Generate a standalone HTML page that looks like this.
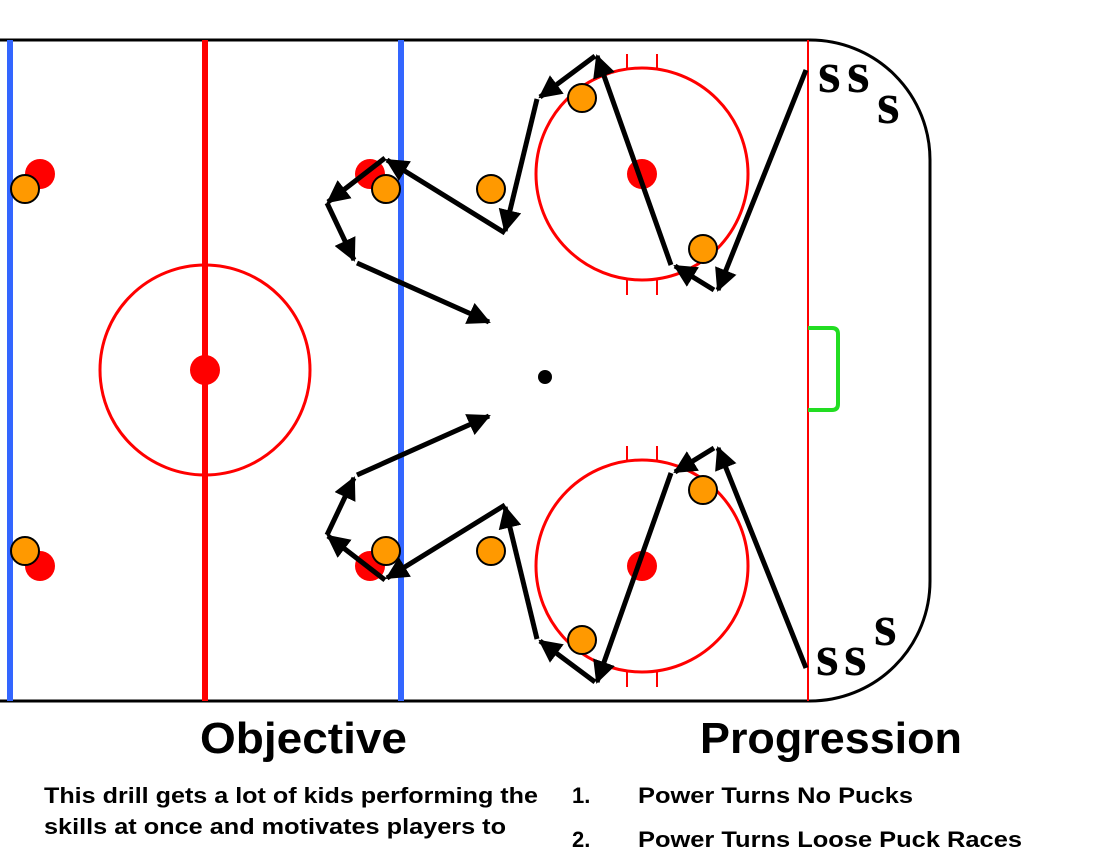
<!DOCTYPE html>
<html><head><meta charset="utf-8"><style>
body{margin:0;width:1100px;height:849px;overflow:hidden;background:#fff;font-family:"Liberation Sans",Arial,sans-serif;}
svg{position:absolute;left:0;top:0}
</style></head><body>
<svg width="1100" height="849" viewBox="0 0 1100 849">
<defs>
<marker id="ah" markerWidth="4.6" markerHeight="4.6" refX="4.2" refY="2.3" orient="auto" markerUnits="strokeWidth"><path d="M0,0 L4.6,2.3 L0,4.6 Z" fill="#000"/></marker>
</defs>
<path d="M0,40 H810 A120,120 0 0 1 930,160 V581 A120,120 0 0 1 810,701 H0" fill="none" stroke="#000" stroke-width="3"/>
<line x1="10" y1="40" x2="10" y2="701" stroke="#3366ff" stroke-width="6"/>
<line x1="401" y1="40" x2="401" y2="701" stroke="#3366ff" stroke-width="6"/>
<line x1="205" y1="40" x2="205" y2="701" stroke="#f00" stroke-width="6"/>
<line x1="808" y1="40" x2="808" y2="701" stroke="#f00" stroke-width="2"/>
<circle cx="205" cy="370" r="105" fill="none" stroke="#f00" stroke-width="3"/>
<circle cx="205" cy="370" r="15" fill="#f00"/>
<circle cx="642" cy="174" r="106" fill="none" stroke="#f00" stroke-width="3"/>
<circle cx="642" cy="566" r="106" fill="none" stroke="#f00" stroke-width="3"/>
<g stroke="#f00" stroke-width="2">
<line x1="627" y1="54" x2="627" y2="69"/><line x1="657" y1="54" x2="657" y2="69"/>
<line x1="627" y1="279" x2="627" y2="295"/><line x1="657" y1="279" x2="657" y2="295"/>
<line x1="627" y1="446" x2="627" y2="461"/><line x1="657" y1="446" x2="657" y2="461"/>
<line x1="627" y1="671" x2="627" y2="687"/><line x1="657" y1="671" x2="657" y2="687"/>
</g>
<g fill="#f00">
<circle cx="40" cy="174" r="15"/><circle cx="40" cy="566" r="15"/>
<circle cx="370" cy="174" r="15"/><circle cx="370" cy="566" r="15"/>
<circle cx="642" cy="174" r="15"/><circle cx="642" cy="566" r="15"/>
</g>
<path d="M808,328 H832 Q838,328 838,334 V404 Q838,410 832,410 H808" fill="none" stroke="#22dd22" stroke-width="4"/>
<circle cx="545" cy="377" r="7" fill="#000"/>
<g stroke="#000" stroke-width="5" fill="none" marker-end="url(#ah)">
<line x1="806" y1="70" x2="718" y2="290"/>
<line x1="714" y1="290" x2="675" y2="266"/>
<line x1="671" y1="265" x2="597" y2="56"/>
<line x1="595" y1="56" x2="540" y2="97"/>
<line x1="537" y1="99" x2="505" y2="231"/>
<line x1="505" y1="233" x2="387" y2="160"/>
<line x1="385" y1="158" x2="328" y2="202"/>
<line x1="327" y1="203" x2="354" y2="260"/>
<line x1="357" y1="263" x2="489" y2="322"/>
</g>
<g transform="translate(0,738) scale(1,-1)" stroke="#000" stroke-width="5" fill="none" marker-end="url(#ah)">
<line x1="806" y1="70" x2="718" y2="290"/>
<line x1="714" y1="290" x2="675" y2="266"/>
<line x1="671" y1="265" x2="597" y2="56"/>
<line x1="595" y1="56" x2="540" y2="97"/>
<line x1="537" y1="99" x2="505" y2="231"/>
<line x1="505" y1="233" x2="387" y2="160"/>
<line x1="385" y1="158" x2="328" y2="202"/>
<line x1="327" y1="203" x2="354" y2="260"/>
<line x1="357" y1="263" x2="489" y2="322"/>
</g>
<g fill="#f90" stroke="#000" stroke-width="2">
<circle cx="25" cy="189" r="14"/><circle cx="25" cy="551" r="14"/>
<circle cx="386" cy="189" r="14"/><circle cx="386" cy="551" r="14"/>
<circle cx="491" cy="189" r="14"/><circle cx="491" cy="551" r="14"/>
<circle cx="582" cy="98" r="14"/><circle cx="703" cy="249" r="14"/>
<circle cx="703" cy="490" r="14"/><circle cx="582" cy="640" r="14"/>
</g>
<g font-family="Liberation Serif,serif" font-weight="bold" font-size="58" fill="#000">
<text x="818" y="92">s</text><text x="847" y="92">s</text><text x="877" y="123">s</text>
<text x="816" y="675">s</text><text x="844" y="675">s</text><text x="874" y="645">s</text>
</g>
<g font-family="Liberation Sans,Arial,sans-serif" font-weight="bold" fill="#000">
<text x="200" y="753" font-size="44" textLength="207" lengthAdjust="spacingAndGlyphs">Objective</text>
<text x="700" y="753" font-size="44" textLength="262" lengthAdjust="spacingAndGlyphs">Progression</text>
<g font-size="22">
<text x="44" y="803" textLength="494" lengthAdjust="spacingAndGlyphs">This drill gets a lot of kids performing the</text>
<text x="44" y="834" textLength="462" lengthAdjust="spacingAndGlyphs">skills at once and motivates players to</text>
<text x="44" y="865">perform at a very high tempo. Skills</text>
<text x="572" y="803">1.</text><text x="638" y="803" textLength="275" lengthAdjust="spacingAndGlyphs">Power Turns No Pucks</text>
<text x="572" y="847">2.</text><text x="638" y="847" textLength="384" lengthAdjust="spacingAndGlyphs">Power Turns Loose Puck Races</text>
</g>
</g>
</svg>
</body></html>
